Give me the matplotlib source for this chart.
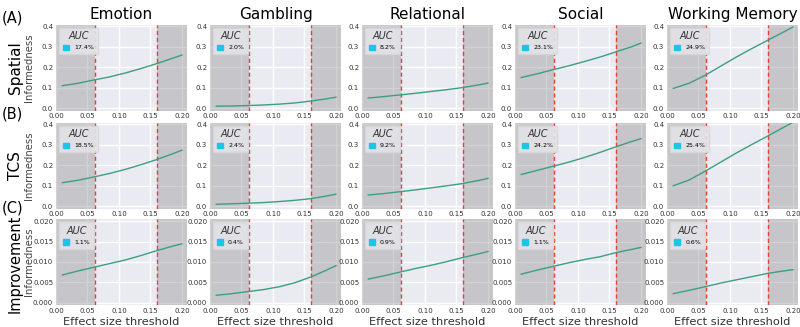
import matplotlib
matplotlib.use("Agg")
import matplotlib.pyplot as plt
import matplotlib.patches as mpatches
import numpy as np

tasks = ["Emotion", "Gambling", "Relational", "Social", "Working Memory"]
row_names = ["Spatial", "TCS", "Improvement"]
row_tags = ["(A)", "(B)", "(C)"]

thresholds = [0.01, 0.035, 0.06, 0.085, 0.11, 0.135, 0.16, 0.185, 0.20]

spatial = {
    "Emotion":        [0.110, 0.122, 0.138, 0.153, 0.172, 0.194, 0.218, 0.244, 0.260],
    "Gambling":       [0.010, 0.011, 0.013, 0.016, 0.020, 0.026, 0.035, 0.046, 0.054],
    "Relational":     [0.050, 0.057, 0.065, 0.073, 0.082, 0.091, 0.101, 0.114, 0.123],
    "Social":         [0.150, 0.168, 0.188, 0.207, 0.228, 0.250, 0.275, 0.300, 0.318],
    "Working Memory": [0.097, 0.122, 0.160, 0.205, 0.250, 0.292, 0.332, 0.372, 0.397],
}
tcs = {
    "Emotion":        [0.115, 0.127, 0.143, 0.160, 0.180, 0.203, 0.228, 0.256, 0.274],
    "Gambling":       [0.010, 0.012, 0.015, 0.018, 0.023, 0.029, 0.037, 0.050, 0.059],
    "Relational":     [0.055, 0.062, 0.071, 0.080, 0.090, 0.100, 0.111, 0.126, 0.136],
    "Social":         [0.155, 0.175, 0.195, 0.215, 0.238, 0.263, 0.290, 0.316, 0.330],
    "Working Memory": [0.100, 0.128, 0.170, 0.215, 0.260, 0.302, 0.343, 0.385, 0.410],
}
improvement = {
    "Emotion":        [0.0068, 0.0078, 0.0087, 0.0096, 0.0105, 0.0116, 0.0128, 0.0139, 0.0145],
    "Gambling":       [0.0018, 0.0022, 0.0027, 0.0032, 0.0039, 0.0049, 0.0063, 0.0080, 0.0091],
    "Relational":     [0.0058, 0.0066, 0.0075, 0.0084, 0.0092, 0.0101, 0.0111, 0.0120, 0.0126],
    "Social":         [0.0070, 0.0080, 0.0089, 0.0098, 0.0106, 0.0113, 0.0123, 0.0131, 0.0136],
    "Working Memory": [0.0022, 0.0030, 0.0039, 0.0048, 0.0056, 0.0064, 0.0072, 0.0078, 0.0081],
}
auc_labels = [
    ["17.4%", "2.0%", "8.2%", "23.1%", "24.9%"],
    ["18.5%", "2.4%", "9.2%", "24.2%", "25.4%"],
    ["1.1%", "0.4%", "0.9%", "1.1%", "0.6%"],
]
low_cut = 0.062
high_cut = 0.16

rows = [spatial, tcs, improvement]

fig = plt.figure(figsize=(8.0, 3.27), dpi=100)
W, H = 800.0, 327.0

lefts = [56, 210, 362, 515, 667]
ax_w = 131
tops = [24.5, 122.5, 219]
ax_h = 86

line_color = "#3c9f80"
cyan = "#1cc5e6"
red = "#e8402f"

for r in range(3):
    for c, task in enumerate(tasks):
        ax = fig.add_axes([lefts[c] / W, 1 - (tops[r] + ax_h) / H, ax_w / W, ax_h / H])
        ax.set_facecolor("#EAEAF2")
        for s in ax.spines.values():
            s.set_visible(False)
        ax.grid(True, color="white", linewidth=1.0)
        ax.set_axisbelow(True)
        ax.set_xlim(0, 0.208)
        if r < 2:
            ax.set_ylim(-0.011, 0.409)
            ax.set_yticks([0.0, 0.1, 0.2, 0.3, 0.4])
            ax.set_yticklabels(["0.0", "0.1", "0.2", "0.3", "0.4"])
        else:
            ax.set_ylim(-0.0006, 0.0206)
            ax.set_yticks([0.0, 0.005, 0.010, 0.015, 0.020])
            ax.set_yticklabels(["0.000", "0.005", "0.010", "0.015", "0.020"])
        ax.set_xticks([0.0, 0.05, 0.10, 0.15, 0.20])
        ax.set_xticklabels(["0.00", "0.05", "0.10", "0.15", "0.20"])
        ax.tick_params(axis="both", labelsize=5, length=0, pad=2, colors="#333333")
        ax.axvspan(0, low_cut, color="#808080", alpha=0.35, lw=0, zorder=1)
        ax.axvspan(high_cut, 0.208, color="#808080", alpha=0.35, lw=0, zorder=1)
        ax.axvline(low_cut, color=red, ls=(0, (3, 2)), lw=1.0, zorder=3)
        ax.axvline(high_cut, color=red, ls=(0, (3, 2)), lw=1.0, zorder=3)
        ax.plot(thresholds, rows[r][task], color=line_color, lw=1.0, zorder=4)
        patch = mpatches.Patch(color=cyan, label=auc_labels[r][c])
        leg = ax.legend(handles=[patch], title="AUC", loc="upper left",
                        fontsize=4.5, title_fontsize=7, frameon=True,
                        handlelength=1.0, handleheight=1.0, borderpad=0.6,
                        handletextpad=0.8, borderaxespad=0.5)
        leg.get_title().set_fontstyle("italic")
        leg.get_title().set_color("#333333")
        leg.get_frame().set_facecolor("#E4E4E8")
        leg.get_frame().set_edgecolor("#D8D8DC")
        leg.get_frame().set_alpha(0.9)
        if r == 0:
            ax.set_title(task, fontsize=11, pad=4)
        if c == 0:
            ax.set_ylabel("Informedness", fontsize=7.3, color="#444444")
            ax.yaxis.set_label_coords((33.5 - lefts[0]) / ax_w, 0.5)
        if r == 2:
            ax.set_xlabel("Effect size threshold", fontsize=8.2, labelpad=2, color="#333333")

name_x = [15, 15, 15]
name_size = [11, 11, 10.5]
name_y = [tops[0] + ax_h / 2, tops[1] + ax_h / 2, tops[2] + ax_h / 2 + 2]
for r in range(3):
    fig.text(name_x[r] / W, 1 - name_y[r] / H, row_names[r], rotation=90,
             fontsize=name_size[r], ha="center", va="center")
tag_y = [18, 114, 208]
for r in range(3):
    fig.text(2 / W, 1 - tag_y[r] / H, row_tags[r], fontsize=10.5, ha="left", va="center")

fig.savefig("out.png", dpi=100)
